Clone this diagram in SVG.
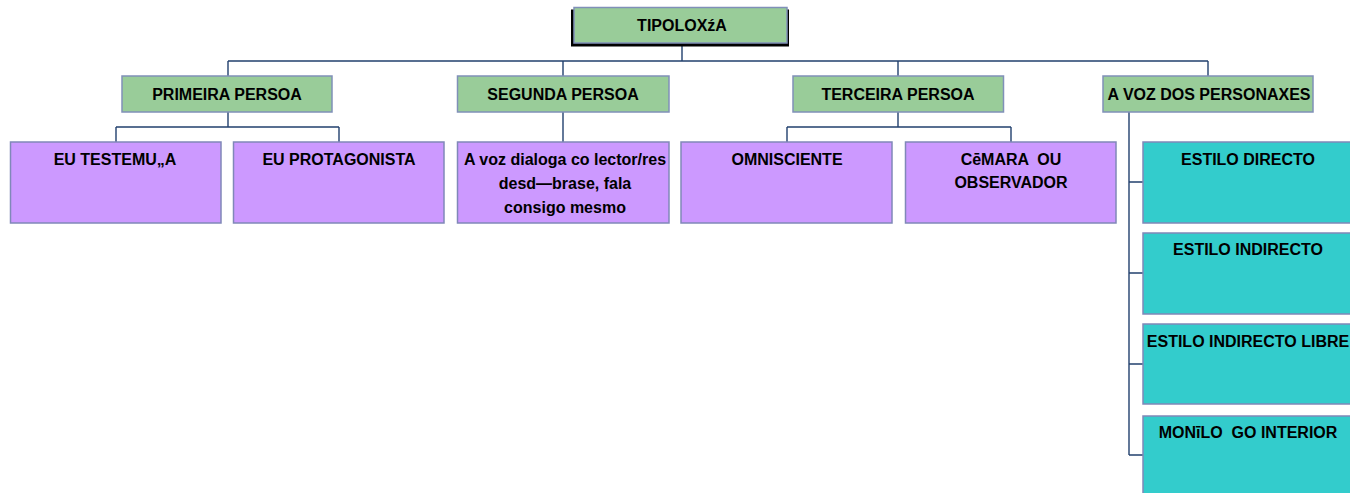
<svg xmlns="http://www.w3.org/2000/svg" width="1350" height="493" viewBox="0 0 1350 493">
<style>
.g{fill:#99CC99;stroke:#8090B8;stroke-width:1.5}
.p{fill:#CC99FF;stroke:#8088B8;stroke-width:1.5}
.c{fill:#33CCCC;stroke:#8088B8;stroke-width:1.5}
.t{font-family:"Liberation Sans",Arial,sans-serif;font-weight:bold;font-size:16px;fill:#000;text-anchor:middle;white-space:pre}
.l{fill:none;stroke:#22406E;stroke-width:1.4}
</style>
<rect width="1350" height="493" fill="#fff"/>
<g id="connectors">
<path class="l" d="M682 44V61M228 61H1208M228 61V76M563 61V76M898 61V76M1208 61V76"/>
<path class="l" d="M228 112V127M116 127H339M116 127V142M339 127V142"/>
<path class="l" d="M563 112V142"/>
<path class="l" d="M898 112V127M787 127H1011M787 127V142M1011 127V142"/>
<path class="l" d="M1129 112V455M1129 182H1143M1129 273H1143M1129 364H1143M1129 455H1143"/>
</g>
<g id="tipoloxia">
<rect x="571" y="9.5" width="218" height="37" fill="#000"/>
<rect class="g" x="574" y="7.5" width="213" height="35.5"/>
<text class="t" x="682" y="31">TIPOLOXźA</text>
</g>
<g id="primeira">
<rect class="g" x="122" y="76" width="210" height="36"/>
<text class="t" x="227" y="100">PRIMEIRA PERSOA</text>
</g>
<g id="segunda">
<rect class="g" x="457.5" y="76" width="211.5" height="36"/>
<text class="t" x="563" y="100">SEGUNDA PERSOA</text>
</g>
<g id="terceira">
<rect class="g" x="793" y="76" width="210.5" height="36"/>
<text class="t" x="898" y="100">TERCEIRA PERSOA</text>
</g>
<g id="avoz">
<rect class="g" x="1103" y="76" width="210" height="36"/>
<text class="t" x="1209" y="100">A VOZ DOS PERSONAXES</text>
</g>
<g id="testemuna">
<rect class="p" x="10.5" y="142" width="210.5" height="81"/>
<text class="t" x="115" y="165">EU TESTEMU„A</text>
</g>
<g id="protagonista">
<rect class="p" x="233.5" y="142" width="210.5" height="81"/>
<text class="t" x="339" y="165">EU PROTAGONISTA</text>
</g>
<g id="dialoga">
<rect class="p" x="457.5" y="142" width="211.5" height="81"/>
<text class="t" x="565" y="165">A voz dialoga co lector/res</text>
<text class="t" x="565" y="189">desd—brase, fala</text>
<text class="t" x="565" y="213">consigo mesmo</text>
</g>
<g id="omnisciente">
<rect class="p" x="681" y="142" width="211" height="81"/>
<text class="t" x="787" y="165">OMNISCIENTE</text>
</g>
<g id="camara">
<rect class="p" x="905.5" y="142" width="210.5" height="81"/>
<text class="t" x="1011" y="165">CēMARA  OU</text>
<text class="t" x="1011" y="188">OBSERVADOR</text>
</g>
<g id="directo">
<rect class="c" x="1143" y="142" width="212" height="81"/>
<text class="t" x="1248" y="165">ESTILO DIRECTO</text>
</g>
<g id="indirecto">
<rect class="c" x="1143" y="233" width="212" height="81"/>
<text class="t" x="1248" y="255">ESTILO INDIRECTO</text>
</g>
<g id="libre">
<rect class="c" x="1143" y="324" width="212" height="80"/>
<text class="t" x="1248" y="347">ESTILO INDIRECTO LIBRE</text>
</g>
<g id="monologo">
<rect class="c" x="1143" y="416" width="212" height="82"/>
<text class="t" x="1248" y="438">MONīLO  GO INTERIOR</text>
</g>
</svg>
